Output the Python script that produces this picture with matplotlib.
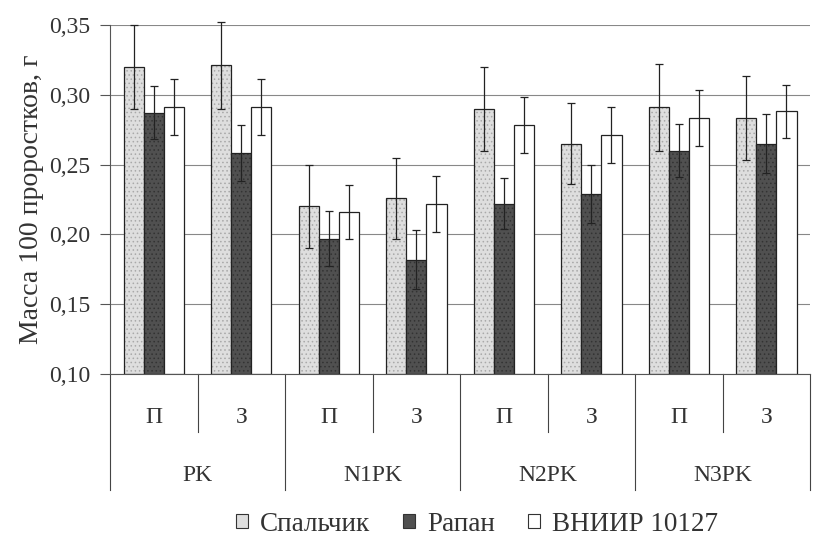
import matplotlib.pyplot as plt
from matplotlib.patches import Patch
import numpy as np

plt.rcParams['font.family'] = ['Liberation Serif', 'DejaVu Serif']
plt.rcParams['hatch.linewidth'] = 0.6

# data
groups = ['PK', 'N1PK', 'N2PK', 'N3PK']
subgroups = ['П', 'З']
series = ['Спальчик', 'Рапан', 'ВНИИР 10127']

spalchik = [0.320, 0.321, 0.220, 0.226, 0.290, 0.265, 0.291, 0.283]
rapan = [0.287, 0.258, 0.197, 0.182, 0.222, 0.229, 0.260, 0.265]
vniir = [0.291, 0.291, 0.216, 0.222, 0.278, 0.271, 0.283, 0.288]

spalchik_err = [0.030, 0.031, 0.030, 0.029, 0.030, 0.029, 0.031, 0.030]
rapan_err = [0.019, 0.020, 0.020, 0.021, 0.018, 0.021, 0.019, 0.021]
vniir_err = [0.020, 0.020, 0.019, 0.020, 0.020, 0.020, 0.020, 0.019]

colors = ['#dedede', '#505050', 'white']
hatch_colors = ['#a9a9a9', '#333333', 'white']
hatches = ['....', '....', None]

fig = plt.figure(figsize=(8.15, 5.39), dpi=100)
ax = fig.add_axes([0.135, 0.306, 0.859, 0.648])

x = np.arange(len(groups) * len(subgroups))
w = 0.23
vals = [spalchik, rapan, vniir]
errs = [spalchik_err, rapan_err, vniir_err]
for i in range(3):
    pos = x + (i - 1) * w
    h = np.array(vals[i]) - 0.10
    # textured fill
    ax.bar(pos, h, bottom=0.10, width=w, color=colors[i], edgecolor=hatch_colors[i],
           hatch=hatches[i], linewidth=0)
    # outline and error bars
    bc = ax.bar(pos, h, bottom=0.10, width=w, facecolor='none', edgecolor='#222222',
                linewidth=0.9, yerr=errs[i], capsize=3,
                error_kw=dict(ecolor='#222222', elinewidth=0.9, capthick=0.9))
    for part in bc.errorbar.lines:
        if part is None:
            continue
        for art in (part if isinstance(part, tuple) else [part]):
            art.set_clip_on(False)

ax.set_ylim(0.10, 0.35)
ax.set_xlim(-0.5, len(x) - 0.5)
ticks = np.arange(0.10, 0.351, 0.05)
ax.set_yticks(ticks)
ax.set_yticklabels([f'{v:.2f}'.replace('.', ',') for v in ticks], fontsize=17, color='#333333')
ax.set_ylabel('Масса 100 проростков, г', fontsize=20, color='#333333', labelpad=4)
ax.yaxis.grid(True, color='#888888', linewidth=0.8)
ax.set_axisbelow(True)
for s in ['top', 'right']:
    ax.spines[s].set_visible(False)
ax.spines['left'].set_color('#555555')
ax.spines['bottom'].set_color('#555555')
ax.tick_params(axis='y', length=7, color='#555555', pad=7)
ax.set_xticks([])

# two-level category axis
trans = ax.get_xaxis_transform()
for i, xi in enumerate(x):
    ax.text(xi, -0.123, subgroups[i % 2], transform=trans, ha='center', va='center',
            fontsize=17, color='#333333')
for b in np.arange(0.5, len(x) - 0.5, 2):
    ax.plot([b, b], [0, -0.166], transform=trans, color='#444444', lw=0.8, clip_on=False)
for b in np.arange(-0.5, len(x), 2):
    ax.plot([b, b], [0, -0.332], transform=trans, color='#444444', lw=0.8, clip_on=False)
for g, name in enumerate(groups):
    ax.text(2 * g + 0.5, -0.289, name, transform=trans, ha='center', va='center',
            fontsize=17, color='#333333')

handles = [Patch(facecolor=colors[i], edgecolor='#333333', linewidth=0.8, label=series[i])
           for i in range(3)]
ax.legend(handles=handles, loc='center', bbox_to_anchor=(0.524, -0.43), ncol=3, frameon=False,
          fontsize=19.5, handlelength=0.45, handleheight=0.45, handletextpad=0.45,
          columnspacing=1.2, labelcolor='#333333', borderpad=0.1)

fig.savefig('out.png', dpi=100)
